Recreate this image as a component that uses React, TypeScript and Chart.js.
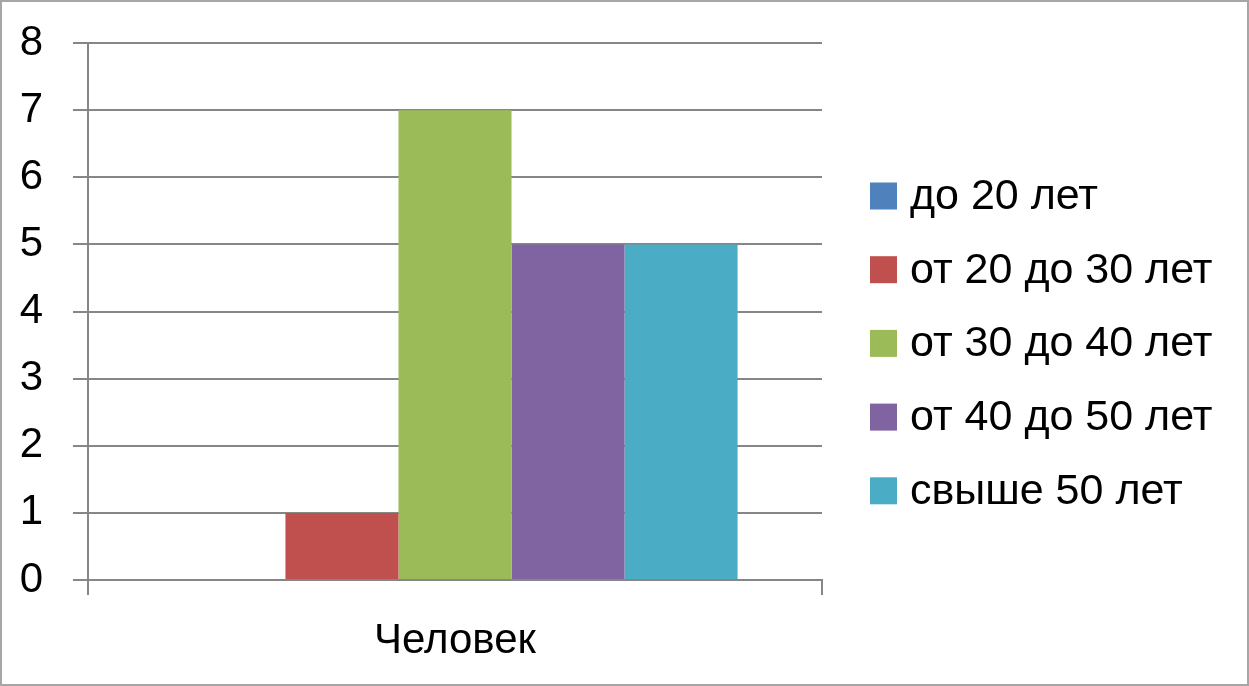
import React, { useEffect, useRef } from "react";
import { Chart, registerables } from "chart.js";

Chart.register(...registerables);

const categories = ["Человек"];
const seriesNames = ["до 20 лет", "от 20 до 30 лет", "от 30 до 40 лет", "от 40 до 50 лет", "свыше 50 лет"];
const seriesValues = [[0], [1], [7], [5], [5]];
const seriesColors = ["#4F81BD", "#C0504D", "#9BBB59", "#8064A2", "#4BACC6"];
const yTicks = [0, 1, 2, 3, 4, 5, 6, 7, 8];

const FONT = "'Liberation Sans', Arial, sans-serif";
const GRID = "#868686";

const frame = {
  id: "frame",
  beforeDraw(chart: any) {
    const { ctx, width, height } = chart;
    ctx.save();
    ctx.fillStyle = "#ffffff";
    ctx.fillRect(0, 0, width, height);
    ctx.restore();
  },
  afterDraw(chart: any) {
    const { ctx, width, height } = chart;
    ctx.save();
    ctx.strokeStyle = "#a6a6a6";
    ctx.lineWidth = 2;
    ctx.strokeRect(1, 1, width - 2, height - 2);
    ctx.restore();
  },
};

const sideLegend = {
  id: "sideLegend",
  afterDraw(chart: any) {
    const { ctx } = chart;
    const ds = chart.data.datasets;
    const startY = 196;
    const step = 73.7;
    ctx.save();
    ctx.font = `43px ${FONT}`;
    ctx.textBaseline = "middle";
    ctx.textAlign = "left";
    ds.forEach((d: any, i: number) => {
      const cy = startY + i * step;
      ctx.fillStyle = d.backgroundColor;
      ctx.fillRect(870, cy - 13.5, 27, 27);
      ctx.fillStyle = "#000000";
      ctx.fillText(d.label, 910, cy + 1);
    });
    ctx.restore();
  },
};

export default function App() {
  const ref = useRef<HTMLCanvasElement>(null);
  useEffect(() => {
    document.body.style.margin = "0";
    const chart = new Chart(ref.current!, {
      type: "bar",
      data: {
        labels: categories,
        datasets: seriesNames.map((n, i) => ({
          label: n,
          data: seriesValues[i],
          backgroundColor: seriesColors[i],
          borderWidth: 0,
          categoryPercentage: 0.77,
          barPercentage: 1,
        })),
      },
      options: {
        animation: false,
        responsive: false,
        devicePixelRatio: 1,
        layout: { padding: { top: 43, right: 427, left: 0, bottom: 0 } },
        plugins: { legend: { display: false }, tooltip: { enabled: false } },
        scales: {
          x: {
            offset: true,
            grid: { offset: true, drawOnChartArea: false, tickLength: 15, color: GRID, lineWidth: 2 },
            border: { color: GRID, width: 2 },
            ticks: { color: "#000", font: { family: FONT, size: 42 }, padding: 21 },
            afterFit: (s: any) => { s.height = 106; s.paddingLeft = 0; s.paddingRight = 0; },
          },
          y: {
            min: 0,
            max: 8,
            afterBuildTicks: (s: any) => { s.ticks = yTicks.map((v) => ({ value: v })); },
            grid: { color: GRID, lineWidth: 2, tickLength: 15 },
            border: { color: GRID, width: 2 },
            ticks: { color: "#000", font: { family: FONT, size: 42 }, padding: 30 },
            afterFit: (s: any) => { s.width = 88; s.paddingTop = 0; s.paddingBottom = 0; },
          },
        },
      },
      plugins: [frame, sideLegend],
    });
    return () => chart.destroy();
  }, []);
  return <canvas ref={ref} width={1249} height={686} style={{ display: "block" }} />;
}
